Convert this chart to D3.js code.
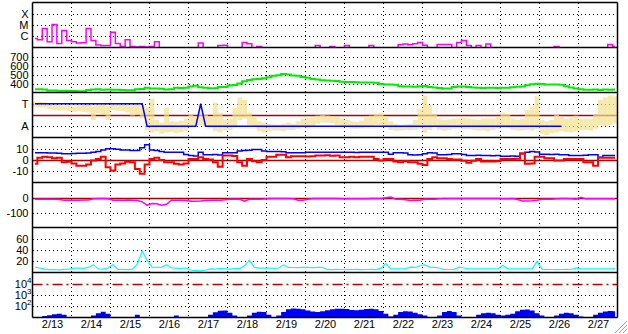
<!DOCTYPE html>
<html>
<head>
<meta charset="utf-8">
<script src="https://cdn.jsdelivr.net/npm/d3@7"></script>
<style>
  body { margin: 0; background: #fff; }
  svg { display: block; font-family: "Liberation Sans", Arial, sans-serif; font-size: 11px; }
</style>
</head>
<body>
<div id="chart"></div>
<script>
/* DATA: 3-hour bins, 2/13 00:00 to 2/28 00:00 UTC, one row per day */
const dayLabels = ["2/13","2/14","2/15","2/16","2/17","2/18","2/19","2/20","2/21","2/22","2/23","2/24","2/25","2/26","2/27"];

// GOES x-ray flux (W/m2)
const xray = [
  6.3e-7, 5e-7, 4.9e-6, 3.2e-7, 1.1e-5, 2.3e-7, 3.2e-6, 4.2e-7,
  3.2e-7, 2.5e-7, 2.6e-7, 4.9e-6, 4.2e-7, 1.7e-7, 1.5e-7, 1.5e-7,
  2.3e-6, 2.3e-7, 1.2e-7, 5e-7, 1.2e-7, 1.1e-7, 1.2e-7, 1.1e-7,
  1.2e-7, 3.2e-7, 5e-8, 5e-8, 5e-8, 5e-8, 5e-8, 5e-8,
  5e-8, 5e-8, 2.5e-7, 5e-8, 5e-8, 5e-8, 1.5e-7, 1.6e-7,
  5e-8, 5e-8, 5e-8, 2.8e-7, 2.2e-7, 5e-8, 1.2e-7, 5e-8,
  5e-8, 5e-8, 5e-8, 5e-8, 5e-8, 5e-8, 5e-8, 5e-8,
  5e-8, 5e-8, 1.5e-7, 5e-8, 5e-8, 1.2e-7, 5e-8, 5e-8,
  1.5e-7, 5e-8, 5e-8, 5e-8, 5e-8, 1.5e-7, 5e-8, 5e-8,
  5e-8, 5e-8, 5e-8, 1.8e-7, 2e-7, 1.8e-7, 2.2e-7, 2.8e-7,
  1.6e-7, 5e-8, 5e-8, 1.85e-7, 1.85e-7, 1.85e-7, 5e-8, 2.8e-7,
  4.2e-7, 1.5e-7, 5e-8, 1.5e-7, 5e-8, 2e-7, 5e-8, 5e-8,
  5e-8, 5e-8, 5e-8, 5e-8, 5e-8, 5e-8, 5e-8, 5e-8,
  5e-8, 5e-8, 5e-8, 1.2e-7, 5e-8, 5e-8, 5e-8, 5e-8,
  5e-8, 5e-8, 5e-8, 5e-8, 5e-8, 5e-8, 1.85e-7, 1.2e-7
];

// solar wind speed (km/s)
const speed = [
  335, 335, 333, 322, 322, 320, 320, 318,
  316, 315, 315, 328, 332, 335, 330, 332,
  330, 330, 328, 325, 325, 337, 338, 352,
  344, 344, 342, 333, 335, 352, 350, 354,
  367, 375, 358, 352, 348, 348, 360, 362,
  378, 382, 400, 425, 440, 448, 450, 458,
  470, 485, 492, 505, 500, 490, 485, 472,
  465, 450, 445, 435, 433, 430, 428, 420,
  418, 418, 415, 412, 410, 410, 408, 395,
  390, 388, 385, 370, 368, 366, 365, 370,
  372, 362, 355, 350, 345, 344, 360, 366,
  368, 362, 356, 352, 350, 352, 352, 350,
  352, 353, 358, 365, 368, 380, 392, 396,
  394, 390, 388, 390, 386, 370, 355, 345,
  335, 330, 330, 332, 328, 332, 330, 332
];

// IMF phi angle range per bin (deg)
const phiLo = [
  245, 240, 240, 225, 220, 215, 218, 210,
  205, 210, 205, 200, 140, 195, 185, 140,
  220, 215, 210, 200, 175, 185, 155, 60,
  40, 50, 30, 40, 45, 35, 40, 55,
  100, 95, 100, 90, 80, 50, 40, 55,
  60, 80, 140, 150, 100, 90, 50, 40,
  50, 55, 56, 50, 60, 60, 70, 80,
  75, 90, 110, 120, 118, 115, 100, 95,
  85, 72, 70, 75, 80, 95, 100, 95,
  90, 60, 55, 56, 60, 58, 60, 70,
  40, 60, 90, 60, 55, 60, 70, 72,
  65, 68, 60, 55, 56, 50, 58, 70,
  80, 75, 60, 55, 56, 60, 56, 70,
  30, 20, 35, 40, 50, 45, 40, 50,
  56, 60, 56, 70, 100, 90, 100, 110
];
const phiHi = [
  285, 285, 280, 260, 258, 255, 250, 255,
  250, 255, 260, 262, 250, 265, 270, 250,
  275, 270, 262, 258, 255, 265, 255, 240,
  310, 140, 120, 240, 130, 125, 135, 150,
  180, 170, 200, 180, 170, 280, 200, 145,
  150, 240, 320, 300, 200, 170, 130, 120,
  110, 105, 104, 110, 120, 110, 130, 150,
  155, 160, 175, 180, 176, 170, 165, 150,
  140, 130, 125, 135, 160, 175, 190, 200,
  170, 130, 110, 100, 105, 110, 140, 230,
  336, 260, 180, 150, 140, 145, 150, 152,
  155, 150, 145, 140, 150, 152, 150, 165,
  200, 190, 150, 140, 150, 220, 250, 330,
  140, 130, 140, 180, 170, 150, 160, 175,
  150, 152, 150, 180, 300, 320, 336, 330
];

// sector polarity (T = toward, A = away)
const sector = [
  "T","T","T","T","T","T","T","T",
  "T","T","T","T","T","T","T","T",
  "T","T","T","T","T","T","T","A",
  "A","A","A","A","A","A","A","A",
  "A","A","T","A","A","A","A","A",
  "A","A","A","A","A","A","A","A",
  "A","A","A","A","A","A","A","A",
  "A","A","A","A","A","A","A","A",
  "A","A","A","A","A","A","A","A",
  "A","A","A","A","A","A","A","A",
  "A","A","A","A","A","A","A","A",
  "A","A","A","A","A","A","A","A",
  "A","A","A","A","A","A","A","A",
  "A","A","A","A","A",null,null,null,
  null,null,null,null,null,null,null,null
];

// IMF magnitude Bt and Bz (nT)
const bt = [
  6.4, 6.4, 6.5, 6.3, 6.2, 6.0, 5.5, 5.5,
  5.8, 6, 6, 6.2, 7, 7.5, 9, 10,
  10, 9.5, 9, 9, 8.4, 8.4, 11, 13.5,
  9, 8.4, 7.5, 7, 7, 7, 7, 5,
  4, 3.5, 7, 4.6, 4.6, 4.8, 4.5, 6.4,
  6.4, 6.5, 8, 8.4, 8.6, 9.3, 9.3, 8,
  7.5, 7.5, 7.5, 7.3, 6.5, 6.4, 6.4, 6.4,
  6.8, 7, 7, 7, 7, 6.8, 6.9, 7,
  6.8, 6.8, 6.7, 6.8, 6.9, 7, 6.8, 7,
  7, 5.2, 6.4, 6.4, 6.3, 4.6, 4.4, 4.6,
  5.5, 6.4, 6.2, 4.6, 4.6, 4.8, 5.5, 5.5,
  5, 4, 4, 4.2, 4, 4, 3.8, 4,
  3.4, 3.4, 3.6, 3.4, 5.5, 6.8, 7.5, 7.2,
  5.2, 5.2, 5.0, 5.2, 4.6, 4.6, 4, 4,
  4, 4.2, 4.6, 4.6, 2.5, 4, 4, 4
];
const bz = [
  -3.4, 2, 3, 2.5, 1.5, 2, -2, -1.5,
  -3, -5, -5, -4, -0.5, 1, 3, -6.4,
  -9.3, -4, -3, -1.5, -2, -8, -12.3, -4,
  1, 2, 0, -2, -2, -3.4, -4, -3,
  1, 1, 2.5, 1, 0.5, -2, -6, 4,
  4, 3.5, -2, -5, 1, -1, -2, 0,
  3, 3, 4.6, 4.6, 2.5, 3.4, 3.4, 3.4,
  3.2, 3.4, 4, 4, 4.2, 3.8, 4, 2.5,
  2.5, 2.8, 2.5, 3, 3, 3, 1, -0.4,
  1, 1, -1.3, -2, -1, -2, -2, -3.4,
  -4.5, 1, 2.5, 1.6, 1.6, 1, 0.4, 0.4,
  -0.7, -2.5, -0.7, 1, -1.3, -1.3, -1.3, -1,
  1, 1, 1, 1.2, 6, -3.4, -3, 3,
  3, 1.6, 1.6, -0.4, -0.4, 1, 1, 1,
  1, -2, -2, -5, 2, 2, 2, 2
];

// Dst (nT)
const dst = [
  -11, -11, -11, -12, -12, -13, -18, -18,
  -18, -18, -17, -17, -9, -7, -7, -8,
  -18, -18, -18, -17, -18, -20, -29, -51,
  -40, -42, -51, -45, -18, -18, -18, -20,
  -25, -25, -24, -20, -18, -18, -18, -15,
  -11, -11, -12, -25, -11, -11, -11, -10,
  -7, -7, -7, -7, -7, -8, -18, -18,
  -12, -7, -7, -7, -7, -7, -7, -8,
  -9, -9, -9, -9, -9, -7, -7, -7,
  -2, 3, -11, -11, -15, -20, -18, -18,
  -10, -11, -11, -9, -7, -7, -7, -7,
  -7, -7, -7, -7, -7, -7, -7, -7,
  -8, -8, -7, -13, -23, -23, -22, -18,
  -11, -11, -11, -9, -7, -7, -8, -11,
  2, -9, -9, -9, -9, -9, -9, -9
];

// proton density (n/cc)
const density = [
  9.5, 8, 6, 5, 5.3, 4.5, 5.5, 6,
  7.7, 8, 7.5, 9, 14, 6.5, 6, 8,
  14, 5.3, 5.5, 5, 6, 15, 38, 22,
  9.5, 9, 9.5, 14, 8, 7.7, 7.5, 8,
  4, 3.5, 3, 4, 6.5, 6, 7, 6.5,
  6, 7, 7, 12, 22, 9, 7.7, 7.7,
  8, 7.5, 8, 13.6, 9, 8.9, 8.5, 9,
  9, 8.5, 9, 9, 5.3, 5, 5.5, 5.3,
  5, 5.3, 5.5, 5, 5.3, 5.5, 5, 7.7,
  16, 6.5, 6.5, 6.5, 7, 9.5, 9, 12.4,
  13.6, 9.5, 9, 8, 5.3, 5.3, 5.5, 9.5,
  8, 6.5, 6.5, 6.5, 6.5, 6.5, 6.5, 7,
  12.4, 6.5, 6.5, 6.5, 6.5, 6.5, 6.5, 19.6,
  6, 5.3, 5.3, 5, 5.3, 5.5, 5.3, 8.3,
  6.5, 6.5, 6.5, 6.5, 6.5, 6.5, 6.5, 6.5
];

// electron flux
const electrons = [
  5, 5, 11, 13, 16, 18, 14, 5,
  5, 5, 5, 5, 12, 20, 27, 18,
  5, 5, 5, 5, 5, 14, 5, 5,
  5, 5, 5, 5, 5, 12, 5, 5,
  5, 5, 5, 5, 14, 24, 34, 36,
  22, 12, 5, 5, 12, 22, 27, 25,
  14, 8, 12, 25, 45, 55, 52, 45,
  35, 28, 26, 30, 38, 45, 50, 52,
  48, 40, 38, 42, 48, 50, 45, 32,
  18, 10, 14, 25, 30, 28, 22, 16,
  12, 5, 5, 12, 26, 31, 26, 12,
  5, 5, 8, 14, 20, 22, 20, 14,
  12, 14, 18, 30, 42, 44, 36, 20,
  12, 5, 8, 12, 18, 22, 20, 14,
  10, 5, 8, 14, 22, 28, 31, 30
];

/* LAYOUT */
const width = 628, height = 334;
const plotLeft = 32.5, plotRight = 617.5, plotTop = 2.5, panelH = 45;
const start = Date.UTC(2014, 1, 13), end = Date.UTC(2014, 1, 28);
const binMs = 3 * 3600e3;
const times = xray.map((d, i) => new Date(start + (i + 0.5) * binMs));

const svg = d3.select("#chart").append("svg")
  .attr("width", width)
  .attr("height", height);

const x = d3.scaleUtc().domain([start, end]).range([plotLeft, plotRight]);

const panelTop = k => plotTop + k * panelH;
const yRange = k => [panelTop(k) + panelH, panelTop(k)];

const yXray = d3.scaleLog().domain([1e-7, 1e-3]).range(yRange(0));
const ySpeed = d3.scaleLinear().domain([300, 800]).range(yRange(1));
const yPhi = d3.scaleLinear().domain([0, 360]).range(yRange(2));
const yImf = d3.scaleLinear().domain([-20, 20]).range(yRange(3));
const yDst = d3.scaleLinear().domain([-200, 100]).range(yRange(4));
const yDen = d3.scaleLinear().domain([0, 80]).range(yRange(5));
const yEle = d3.scaleLog().domain([8, 1.1e5]).range(yRange(6));
const sectorValue = { T: 270, A: 90 };

// clip paths for each panel
const defs = svg.append("defs");
d3.range(7).forEach(k => {
  defs.append("clipPath").attr("id", "clip" + k)
    .append("rect")
    .attr("x", plotLeft).attr("y", panelTop(k))
    .attr("width", plotRight - plotLeft).attr("height", panelH);
});

/* GRID */
const dotted = (sel) => sel.attr("stroke", "#000").attr("stroke-width", 1)
  .attr("stroke-dasharray", "1,3").attr("shape-rendering", "crispEdges");

const hGrid = [
  [yXray, [1e-4, 1e-5, 1e-6]],
  [ySpeed, [400, 500, 600, 700]],
  [yPhi, [270, 90]],
  [yImf, [10, -10]],
  [yDst, [-100]],
  [yDen, [20, 40, 60]],
  [yEle, [1e3, 1e2]]
];
hGrid.forEach(([scale, vals]) => {
  svg.append("g").selectAll("line")
    .data(vals)
    .join("line")
    .attr("x1", plotLeft).attr("x2", plotRight)
    .attr("y1", d => Math.round(scale(d)) + 0.5)
    .attr("y2", d => Math.round(scale(d)) + 0.5)
    .call(dotted);
});

svg.append("g").selectAll("line")
  .data(d3.utcDay.range(new Date(start + 864e5), new Date(end)))
  .join("line")
  .attr("x1", d => Math.round(x(d) - 0.5) + 0.5)
  .attr("x2", d => Math.round(x(d) - 0.5) + 0.5)
  .attr("y1", plotTop).attr("y2", panelTop(7))
  .call(dotted);

/* REFERENCE LINES */
[[yPhi, 180], [yImf, 0], [yDst, 0]].forEach(([scale, v]) => {
  svg.append("line")
    .attr("x1", plotLeft).attr("x2", plotRight)
    .attr("y1", Math.round(scale(v)) + 0.5).attr("y2", Math.round(scale(v)) + 0.5)
    .attr("stroke", "#b00000").attr("stroke-width", 1.5);
});
svg.append("line")
  .attr("x1", plotLeft).attr("x2", plotRight)
  .attr("y1", Math.round(yEle(1e4)) + 0.5).attr("y2", Math.round(yEle(1e4)) + 0.5)
  .attr("stroke", "#c00000").attr("stroke-width", 1.5)
  .attr("stroke-dasharray", "10,4,2,4");

/* DATA */
const drawLine = (k, values, scale, color, w, curve) => {
  svg.append("path")
    .datum(values)
    .attr("clip-path", `url(#clip${k})`)
    .attr("fill", "none")
    .attr("stroke", color)
    .attr("stroke-width", w)
    .attr("d", d3.line()
      .defined(d => d !== null)
      .x((d, i) => x(times[i]))
      .y(d => scale(d))
      .curve(curve || d3.curveStep));
};

drawLine(0, xray, yXray, "#ff00ff", 1.5);
drawLine(1, speed, ySpeed, "#00ee00", 2);

// phi scatter band
svg.append("g")
  .attr("clip-path", "url(#clip2)")
  .selectAll("rect")
  .data(phiLo)
  .join("rect")
  .attr("x", (d, i) => x(new Date(start + i * binMs)))
  .attr("width", x(new Date(start + binMs)) - x(new Date(start)))
  .attr("y", (d, i) => yPhi(phiHi[i]))
  .attr("height", (d, i) => yPhi(d) - yPhi(phiHi[i]))
  .attr("fill", "#f3df8a")
  .attr("opacity", 0.7);

drawLine(2, sector.map(s => s ? sectorValue[s] : null), yPhi, "#0000ff", 1.5, d3.curveLinear);

drawLine(3, bt, yImf, "#0000ff", 1.5);
drawLine(3, bz, yImf, "#ff0000", 2);
drawLine(4, dst, yDst, "#ff00ff", 1.5, d3.curveLinear);
drawLine(5, density, yDen, "#00ffff", 1.2, d3.curveLinear);

svg.append("path")
  .datum(electrons)
  .attr("clip-path", "url(#clip6)")
  .attr("fill", "#0000ff")
  .attr("d", d3.area()
    .x((d, i) => x(times[i]))
    .y0(panelTop(7) + 2)
    .y1(d => yEle(d))
    .curve(d3.curveStep));

/* FRAME */
svg.append("g").selectAll("line")
  .data(d3.range(8))
  .join("line")
  .attr("x1", plotLeft).attr("x2", plotRight)
  .attr("y1", k => panelTop(k)).attr("y2", k => panelTop(k))
  .attr("stroke", "#000").attr("stroke-width", 1.5);
[plotLeft, plotRight].forEach(xx => {
  svg.append("line")
    .attr("x1", xx).attr("x2", xx)
    .attr("y1", plotTop).attr("y2", panelTop(7))
    .attr("stroke", "#000").attr("stroke-width", 1.5);
});

/* AXES */
const yAxis = (scale, vals, fmt, pad) => {
  const g = svg.append("g")
    .attr("transform", `translate(${plotLeft},0)`)
    .call(d3.axisLeft(scale).tickValues(vals).tickFormat(fmt).tickSize(0).tickPadding(pad || 4));
  g.select(".domain").remove();
  g.selectAll("text").attr("fill", "#000").style("font-size", "11px").style("font-family", null);
  return g;
};

const xrayClasses = ["X", "M", "C"];
yAxis(yXray, [1e-4, 1e-5, 1e-6], (d, i) => xrayClasses[i]);
yAxis(ySpeed, [400, 500, 600, 700], d3.format("d"));
yAxis(yPhi, [270, 90], d => d === 270 ? "T" : "A");
yAxis(yImf, [10, 0, -10], d => d < 0 ? "-" + Math.abs(d) : d);
yAxis(yDst, [0, -100], d => d < 0 ? "-" + Math.abs(d) : d);
yAxis(yDen, [20, 40, 60], d3.format("d"));
yAxis(yEle, [1e4, 1e3, 1e2], () => "10", 1)
  .selectAll("text")
  .each(function (d) {
    d3.select(this).append("tspan")
      .attr("dy", "-4.5")
      .style("font-size", "8px")
      .text(Math.round(Math.log10(d)));
  });

const xAxis = svg.append("g")
  .attr("transform", `translate(0,${panelTop(7)})`)
  .call(d3.axisBottom(x)
    .tickValues(dayLabels.map((d, i) => new Date(start + (i + 0.5) * 864e5)))
    .tickFormat((d, i) => dayLabels[i])
    .tickSize(0).tickPadding(3));
xAxis.select(".domain").remove();
xAxis.selectAll("text").attr("fill", "#000").style("font-size", "11px").style("font-family", null);

/* RESIZE GRIP */
svg.append("g").selectAll("line")
  .data([0, 4, 8, 12])
  .join("line")
  .attr("x1", o => 627 - 12 + o).attr("y1", 333)
  .attr("x2", 627).attr("y2", o => 333 - 12 + o)
  .attr("stroke", "#a0a0a0").attr("stroke-width", 1);
</script>
</body>
</html>
